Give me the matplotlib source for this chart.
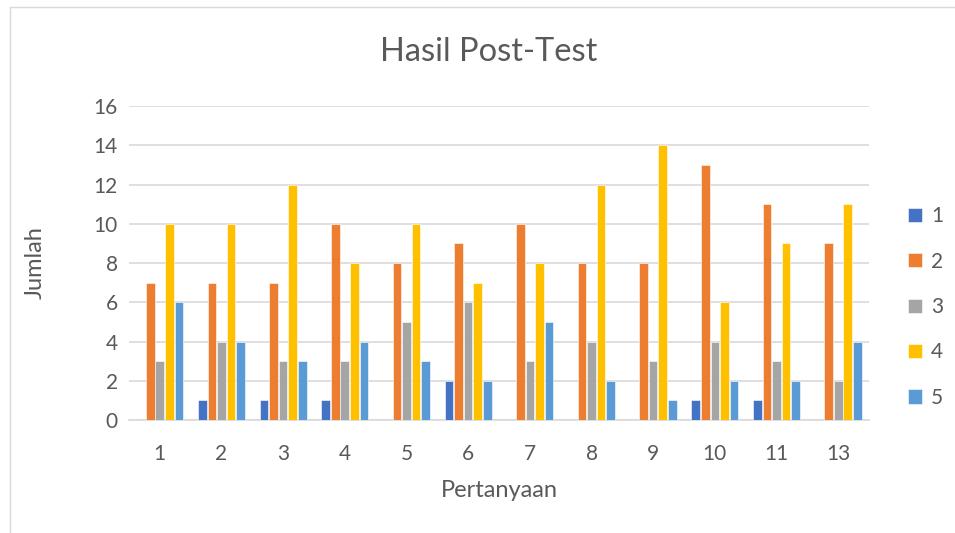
import numpy as np
import matplotlib
matplotlib.use('Agg')
import matplotlib.pyplot as plt
import matplotlib.patches as mpatches

plt.rcParams['font.family'] = ['Lato', 'DejaVu Sans']

categories = ['1', '2', '3', '4', '5', '6', '7', '8', '9', '10', '11', '13']
series_names = ['1', '2', '3', '4', '5']
s1 = [0, 1, 1, 1, 0, 2, 0, 0, 0, 1, 1, 0]
s2 = [7, 7, 7, 10, 8, 9, 10, 8, 8, 13, 11, 9]
s3 = [3, 4, 3, 3, 5, 6, 3, 4, 3, 4, 3, 2]
s4 = [10, 10, 12, 8, 10, 7, 8, 12, 14, 6, 9, 11]
s5 = [6, 4, 3, 4, 3, 2, 5, 2, 1, 2, 2, 4]
all_series = [s1, s2, s3, s4, s5]
colors = ['#4472C4', '#ED7D31', '#A5A5A5', '#FFC000', '#5B9BD5']

txt = '#595959'
grid_c = '#D9D9D9'

fig = plt.figure(figsize=(9.55, 5.33), dpi=100)
ax = fig.add_axes([0.135, 0.212, 0.775, 0.589])

x = np.arange(len(categories))
step = 0.155
bw = 0.14
for k, (vals, name, c) in enumerate(zip(all_series, series_names, colors)):
    ax.bar(x + (k - 2) * step, vals, bw, color=c, label=name,
           edgecolor='white', linewidth=0.4, zorder=3)

ax.set_xlim(-0.5, len(categories) - 0.5)
ax.set_ylim(0, 16)
ax.set_yticks(np.arange(0, 17, 2))
ax.set_xticks(x)
ax.set_xticklabels(categories)
ax.tick_params(length=0, colors=txt, labelsize=15)
ax.tick_params(axis='x', pad=17)
ax.tick_params(axis='y', pad=8)
ax.yaxis.grid(True, color=grid_c, linewidth=1.2, zorder=0)
ax.set_axisbelow(True)
for s in ['top', 'right', 'left']:
    ax.spines[s].set_visible(False)
ax.spines['bottom'].set_color(grid_c)
ax.spines['bottom'].set_linewidth(1.2)

xl = ax.set_xlabel('Pertanyaan', color=txt, fontsize=17)
yl = ax.set_ylabel('Jumlah', color=txt, fontsize=17)
xl.set_va('center')
yl.set_va('center')
ax.xaxis.set_label_coords(0.5, -0.223)
ax.yaxis.set_label_coords(-0.126, 0.5)
fig.text(0.512, 0.902, 'Hasil Post-Test', ha='center', va='center',
         color=txt, fontsize=23.5)

leg = ax.legend(loc='center left', bbox_to_anchor=(1.027, 0.36), frameon=False,
                handlelength=0.67, handleheight=0.67, handletextpad=0.45,
                labelspacing=1.22, fontsize=15)
for t in leg.get_texts():
    t.set_color(txt)

border = mpatches.Rectangle((10 / 955, -0.1), 2, 1 - 7 / 533 + 0.1,
                            transform=fig.transFigure, fill=False,
                            edgecolor=grid_c, linewidth=1)
fig.patches.append(border)

fig.savefig('out.png', dpi=100)
